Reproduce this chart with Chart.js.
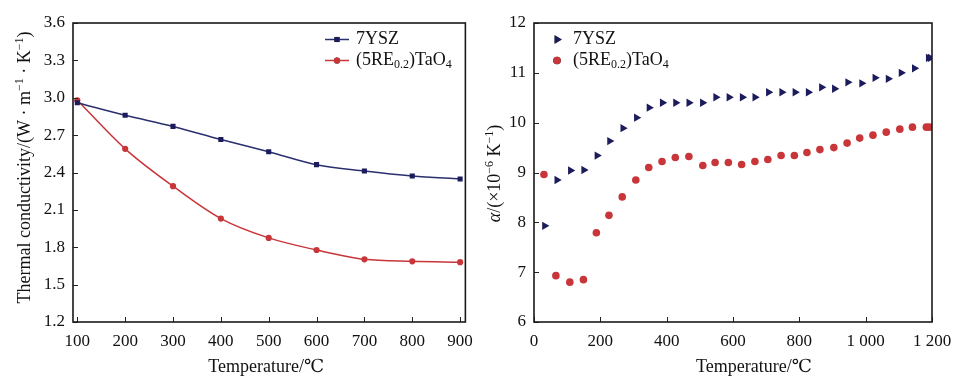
<!DOCTYPE html>
<html><head><meta charset="utf-8">
<script src="https://cdn.jsdelivr.net/npm/chart.js@4.4.0/dist/chart.umd.min.js"></script>
<style>
html,body{margin:0;padding:0;background:#fff;}
#wrap{position:relative;width:964px;height:382px;overflow:hidden;}
.box{position:absolute;top:0;height:382px;width:482px;}
#b1{left:0;} #b2{left:482px;}
</style></head><body>
<div id="wrap"><div class="box" id="b1"><canvas id="c1"></canvas></div><div class="box" id="b2"><canvas id="c2"></canvas></div></div>
<script>
// ---------- data: left panel (thermal conductivity) ----------
const kTemps = [100, 200, 300, 400, 500, 600, 700, 800, 900];
const kYSZ   = [2.96, 2.86, 2.77, 2.665, 2.567, 2.463, 2.412, 2.372, 2.348];
const kRE    = [2.98, 2.59, 2.29, 2.03, 1.875, 1.778, 1.703, 1.687, 1.68];
const kLeftXTicks = [100, 200, 300, 400, 500, 600, 700, 800, 900];
const kLeftYTicks = [1.2, 1.5, 1.8, 2.1, 2.4, 2.7, 3.0, 3.3, 3.6];
const kLeftYLabels = ['1.2', '1.5', '1.8', '2.1', '2.4', '2.7', '3.0', '3.3', '3.6'];

// ---------- data: right panel (thermal expansion coefficient) ----------
const aYSZTemps = [32, 69, 110, 150, 190, 228, 268, 309, 347, 387, 427, 467, 508, 548, 588, 628, 666, 707, 747, 787, 827, 867, 906, 946, 988, 1028, 1068, 1107, 1147, 1189, 1195];
const aYSZ      = [7.93, 8.85, 9.04, 9.05, 9.34, 9.63, 9.89, 10.10, 10.30, 10.40, 10.40, 10.40, 10.40, 10.51, 10.51, 10.51, 10.51, 10.61, 10.61, 10.61, 10.61, 10.71, 10.68, 10.81, 10.79, 10.90, 10.88, 11.00, 11.09, 11.30, 11.30];
const aRETemps  = [30, 66, 108, 149, 188, 226, 266, 307, 346, 386, 426, 467, 509, 546, 586, 626, 666, 705, 745, 785, 823, 862, 904, 944, 982, 1022, 1062, 1103, 1141, 1183, 1192];
const aRE       = [8.96, 6.93, 6.80, 6.85, 7.79, 8.14, 8.51, 8.85, 9.10, 9.22, 9.30, 9.32, 9.14, 9.20, 9.20, 9.16, 9.22, 9.26, 9.34, 9.34, 9.40, 9.46, 9.50, 9.59, 9.69, 9.75, 9.81, 9.87, 9.91, 9.91, 9.91];
const kRightXTicks = [0, 200, 400, 600, 800, 1000, 1200];
const kRightXLabels = ['0', '200', '400', '600', '800', '1 000', '1 200'];
const kRightYTicks = [6, 7, 8, 9, 10, 11, 12];
const kRightYLabels = ['6', '7', '8', '9', '10', '11', '12'];

const kSeriesNames = ['7YSZ', '(5RE_{0.2})TaO_{4}'];
const kLeftYTitle = 'Thermal conductivity/(W · m^{−1} · K^{−1})';
const kRightYTitle = '~{α}/(×10^{−6} K^{−1})';
const kXTitle = 'Temperature/℃';

const NAVY = '#1c1c5c';
const NAVY_LINE = '#2a2f6e';
const RED = '#c9363a';
const FONT = "'Liberation Serif', 'Times New Roman', 'DejaVu Serif', serif";
const FS = 17;   // tick labels
const TFS = 18;  // titles / legend

// ---------- rich text helpers ----------
function parseRich(s) {
  const segs = []; let i = 0, buf = '';
  while (i < s.length) {
    const c = s[i];
    if ((c === '_' || c === '^' || c === '~') && s[i + 1] === '{') {
      if (buf) { segs.push({t: buf, k: 'n'}); buf = ''; }
      const end = s.indexOf('}', i + 2);
      segs.push({t: s.slice(i + 2, end), k: c === '_' ? 'sub' : c === '^' ? 'sup' : 'it'});
      i = end + 1;
    } else { buf += c; i++; }
  }
  if (buf) segs.push({t: buf, k: 'n'});
  return segs;
}
function segFont(k, size) {
  if (k === 'sub' || k === 'sup') return `${Math.round(size * 0.66)}px ${FONT}`;
  if (k === 'it') return `italic ${size}px ${FONT}`;
  return `${size}px ${FONT}`;
}
function richWidth(ctx, segs, size) {
  let w = 0;
  for (const s of segs) { ctx.font = segFont(s.k, size); w += ctx.measureText(s.t).width; }
  return w;
}
function drawRich(ctx, segs, x, y, size) {
  ctx.textBaseline = 'middle'; ctx.textAlign = 'left';
  let cx = x;
  for (const s of segs) {
    ctx.font = segFont(s.k, size);
    let dy = 0;
    if (s.k === 'sub') dy = size * 0.25;
    if (s.k === 'sup') dy = -size * 0.3;
    ctx.fillText(s.t, cx, y + dy);
    cx += ctx.measureText(s.t).width;
  }
}

// ---------- decoration plugin: frame, inward ticks, titles, legend ----------
function makeDecor(cfg) {
  return {
    id: 'decor',
    afterDraw(chart) {
      const ctx = chart.ctx, a = chart.chartArea;
      const xs = chart.scales.x, ys = chart.scales.y;
      ctx.save();
      // inward ticks
      ctx.strokeStyle = '#222'; ctx.lineWidth = 1;
      for (const t of xs.ticks) {
        const px = Math.round(xs.getPixelForValue(t.value)) + 0.5;
        ctx.beginPath(); ctx.moveTo(px, a.bottom); ctx.lineTo(px, a.bottom - 5); ctx.stroke();
      }
      for (const t of ys.ticks) {
        const py = Math.round(ys.getPixelForValue(t.value)) + 0.5;
        ctx.beginPath(); ctx.moveTo(a.left, py); ctx.lineTo(a.left + 5, py); ctx.stroke();
      }
      // frame
      ctx.strokeStyle = '#1a1a1a'; ctx.lineWidth = 1.6;
      ctx.strokeRect(a.left, a.top, a.right - a.left, a.bottom - a.top);
      // x title
      ctx.fillStyle = '#111';
      const xt = parseRich(kXTitle);
      const xw = richWidth(ctx, xt, TFS);
      drawRich(ctx, xt, (a.left + a.right) / 2 + cfg.xTitleDx - xw / 2, a.bottom + 45, TFS);
      // y title (rotated)
      const yt = parseRich(cfg.yTitle);
      const yw = richWidth(ctx, yt, TFS);
      ctx.save();
      ctx.translate(cfg.yTitleX, (a.top + a.bottom) / 2 + cfg.yTitleDy);
      ctx.rotate(-Math.PI / 2);
      drawRich(ctx, yt, -yw / 2, 0, TFS);
      ctx.restore();
      // legend
      chart.data.datasets.forEach((ds, i) => {
        const ly = a.top + 16.5 + i * 21;
        const mx = a.left + cfg.legendMarkerDx;
        if (cfg.legendLine) {
          ctx.strokeStyle = ds.borderColor; ctx.lineWidth = 1.5;
          ctx.beginPath(); ctx.moveTo(mx - 12, ly); ctx.lineTo(mx + 12, ly); ctx.stroke();
        }
        Chart.helpers.drawPoint(ctx, {
          pointStyle: ds.pointStyle, rotation: ds.rotation || 0,
          radius: ds.pointRadius, borderWidth: 0
        }, mx, ly);
        ctx.fillStyle = ds.pointBackgroundColor;
        ctx.fill();
        ctx.fillStyle = '#111';
        drawRich(ctx, parseRich(ds.label), mx + cfg.legendTextDx, ly, TFS);
      });
      ctx.restore();
    }
  };
}

function tickFont() { return {family: FONT, size: FS}; }

// ---------- left chart ----------
new Chart(document.getElementById('c1'), {
  type: 'line',
  data: {
    datasets: [
      {label: kSeriesNames[0], data: kTemps.map((t, i) => ({x: t, y: kYSZ[i]})),
       borderColor: NAVY_LINE, backgroundColor: NAVY, pointBackgroundColor: NAVY, pointBorderColor: NAVY,
       pointStyle: 'rect', pointRadius: 3.6, pointBorderWidth: 0, borderWidth: 1.5, cubicInterpolationMode: 'monotone'},
      {label: kSeriesNames[1], data: kTemps.map((t, i) => ({x: t, y: kRE[i]})),
       borderColor: RED, backgroundColor: RED, pointBackgroundColor: RED, pointBorderColor: RED,
       pointStyle: 'circle', pointRadius: 3.1, pointBorderWidth: 0, borderWidth: 1.5, cubicInterpolationMode: 'monotone'}
    ]
  },
  options: {
    responsive: true, maintainAspectRatio: false, animation: false, devicePixelRatio: 1,
    layout: {padding: {left: 0, top: 23, right: 10, bottom: 0}},
    plugins: {legend: {display: false}, tooltip: {enabled: false}},
    scales: {
      x: {type: 'linear', min: 91, max: 911,
          afterBuildTicks: s => { s.ticks = kLeftXTicks.map(v => ({value: v})); },
          afterFit: s => { s.height = 60; },
          grid: {display: false, drawTicks: false}, border: {display: false},
          ticks: {font: tickFont(), color: '#111', padding: 9, maxRotation: 0, autoSkip: false,
                  callback: (v, i) => String(kLeftXTicks[i])}},
      y: {type: 'linear', min: 1.2, max: 3.6,
          afterBuildTicks: s => { s.ticks = kLeftYTicks.map(v => ({value: v})); },
          afterFit: s => { s.width = 73; },
          grid: {display: false, drawTicks: false}, border: {display: false},
          ticks: {font: tickFont(), color: '#111', padding: 8, autoSkip: false,
                  callback: (v, i) => kLeftYLabels[i]}}
    }
  },
  plugins: [makeDecor({yTitle: kLeftYTitle, yTitleX: 25, yTitleDy: -5, xTitleDx: -3,
                       legendMarkerDx: 264, legendTextDx: 19, legendLine: true})]
});

// ---------- right chart ----------
new Chart(document.getElementById('c2'), {
  type: 'scatter',
  data: {
    datasets: [
      {label: kSeriesNames[0], data: aYSZTemps.map((t, i) => ({x: t, y: aYSZ[i]})),
       borderColor: NAVY, backgroundColor: NAVY, pointBackgroundColor: NAVY, pointBorderColor: NAVY,
       pointStyle: 'triangle', rotation: 90, pointRotation: 90, pointRadius: 4.8, pointBorderWidth: 0},
      {label: kSeriesNames[1], data: aRETemps.map((t, i) => ({x: t, y: aRE[i]})),
       borderColor: RED, backgroundColor: RED, pointBackgroundColor: RED, pointBorderColor: RED,
       pointStyle: 'circle', pointRadius: 3.8, pointBorderWidth: 0}
    ]
  },
  options: {
    responsive: true, maintainAspectRatio: false, animation: false, devicePixelRatio: 1,
    layout: {padding: {left: 0, top: 23, right: 32, bottom: 0}},
    plugins: {legend: {display: false}, tooltip: {enabled: false}},
    scales: {
      x: {type: 'linear', min: 0, max: 1200,
          afterBuildTicks: s => { s.ticks = kRightXTicks.map(v => ({value: v})); },
          afterFit: s => { s.height = 60; },
          grid: {display: false, drawTicks: false}, border: {display: false},
          ticks: {font: tickFont(), color: '#111', padding: 9, maxRotation: 0, autoSkip: false,
                  callback: (v, i) => kRightXLabels[i]}},
      y: {type: 'linear', min: 6, max: 12,
          afterBuildTicks: s => { s.ticks = kRightYTicks.map(v => ({value: v})); },
          afterFit: s => { s.width = 52; },
          grid: {display: false, drawTicks: false}, border: {display: false},
          ticks: {font: tickFont(), color: '#111', padding: 8, autoSkip: false,
                  callback: (v, i) => kRightYLabels[i]}}
    }
  },
  plugins: [makeDecor({yTitle: kRightYTitle, yTitleX: 13, yTitleDy: 1, xTitleDx: 21,
                       legendMarkerDx: 23, legendTextDx: 16, legendLine: false})]
});
</script>
</body></html>
